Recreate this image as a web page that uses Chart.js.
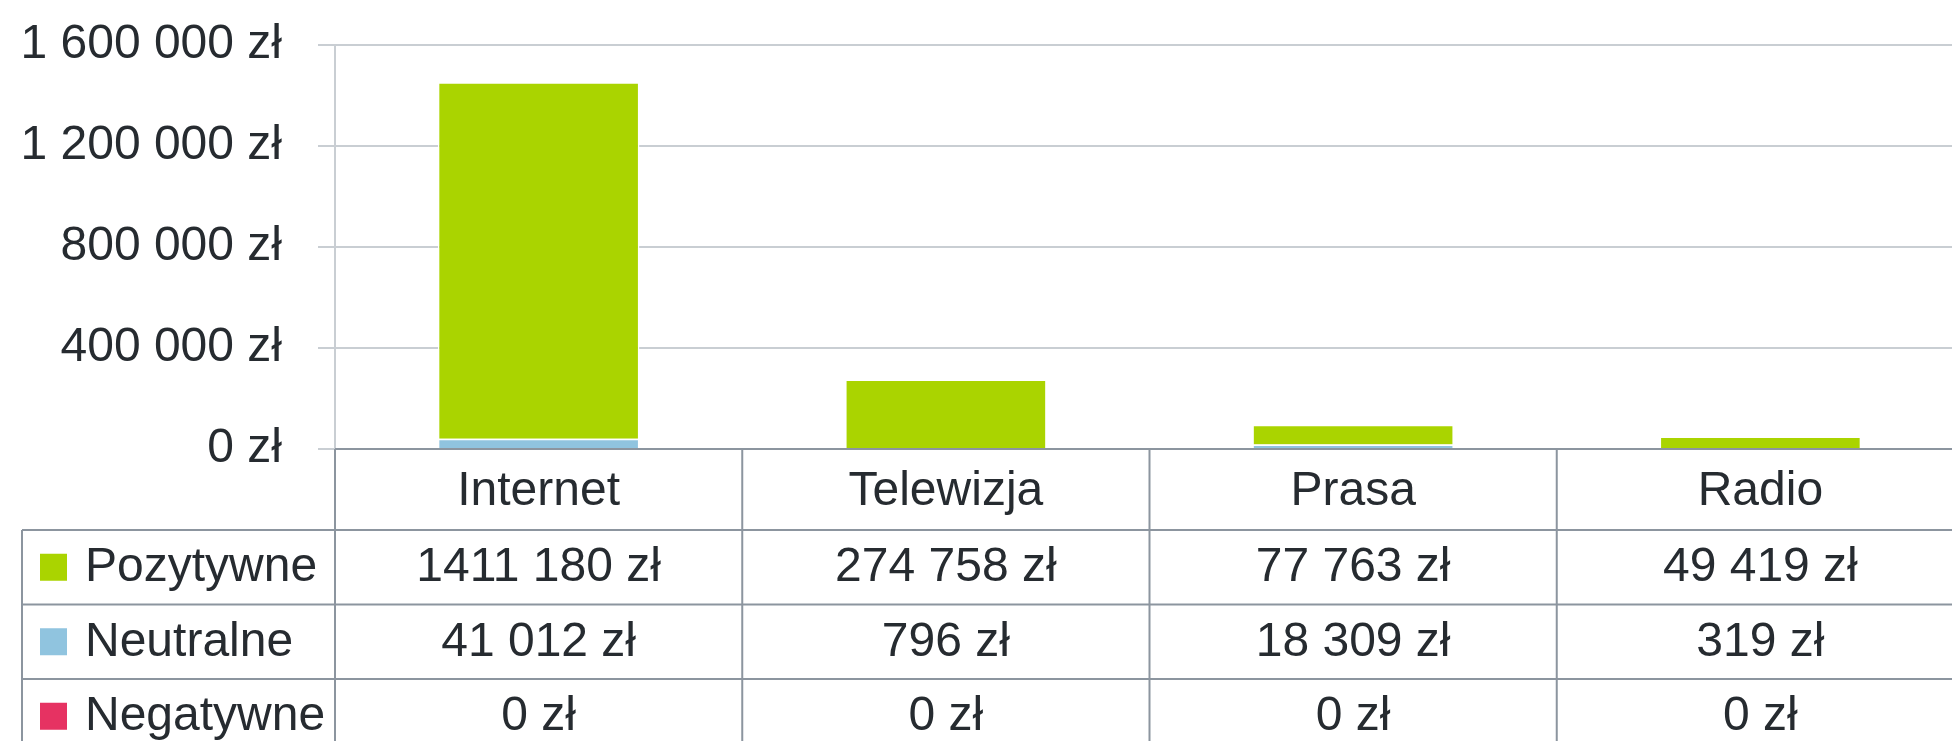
<!DOCTYPE html>
<html>
<head>
<meta charset="utf-8">
<style>
  html, body { margin: 0; padding: 0; background: #fff; overflow: hidden; }
  #wrap { width: 1964px; height: 741px; }
</style>
<script src="https://cdn.jsdelivr.net/npm/chart.js@4.4.1/dist/chart.umd.min.js"></script>
</head>
<body>
<div id="wrap"><canvas id="chart" width="1964" height="741"></canvas></div>
<script>
// --- Data ---
const categories = ['Internet', 'Telewizja', 'Prasa', 'Radio'];
const seriesNames = ['Pozytywne', 'Neutralne', 'Negatywne'];
const pozytywne = [1411180, 274758, 77763, 49419];
const neutralne = [41012, 796, 18309, 319];
const negatywne = [0, 0, 0, 0];
const yTicks = [0, 400000, 800000, 1200000, 1600000];

const colors = { Pozytywne: '#aad400', Neutralne: '#90c4df', Negatywne: '#e63262' };
const textColor = '#262b30';
const gridColor = '#c9ced3';
const tableColor = '#8c959f';
const FONT = '"Liberation Sans", Arial, sans-serif';

// "1 600 000 zł" style for the axis
function fmtAxis(v) {
  return String(v).replace(/\B(?=(\d{3})+(?!\d))/g, ' ') + ' zł';
}
// table cells only split the last group ("1411 180 zł")
function fmtCell(v) {
  if (v < 1000) return v + ' zł';
  return Math.floor(v / 1000) + ' ' + String(v % 1000).padStart(3, '0') + ' zł';
}

const rowValues = { Pozytywne: pozytywne, Neutralne: neutralne, Negatywne: negatywne };

// --- Data table under the plot ---
const dataTable = {
  id: 'dataTable',
  afterDraw(chart) {
    const { ctx, chartArea, scales } = chart;
    const x = scales.x;
    const colW = (chartArea.right - chartArea.left) / categories.length;
    const top = chartArea.bottom;
    const headH = 81;
    const rowH = 74.5;
    const tableLeft = 22;
    const W = chart.width;

    ctx.save();
    ctx.strokeStyle = tableColor;
    ctx.lineWidth = 2;

    // horizontal lines
    ctx.beginPath();
    ctx.moveTo(chartArea.left, top); ctx.lineTo(W, top);
    for (let r = 0; r <= seriesNames.length; r++) {
      const y = top + headH + r * rowH;
      ctx.moveTo(tableLeft, y); ctx.lineTo(W, y);
    }
    // vertical lines
    const bottom = top + headH + seriesNames.length * rowH;
    ctx.moveTo(tableLeft, top + headH); ctx.lineTo(tableLeft, bottom);
    for (let i = 0; i <= categories.length; i++) {
      const cx = chartArea.left + i * colW;
      ctx.moveTo(cx, top); ctx.lineTo(cx, bottom);
    }
    ctx.stroke();

    ctx.fillStyle = textColor;
    ctx.font = '48px ' + FONT;
    ctx.textBaseline = 'middle';
    ctx.textAlign = 'center';
    categories.forEach((c, i) => {
      ctx.fillText(c, x.getPixelForValue(i), top + headH / 2 + 2);
    });

    seriesNames.forEach((name, r) => {
      const cy = top + headH + r * rowH + rowH / 2;
      ctx.fillStyle = colors[name];
      ctx.fillRect(40, cy - 13.5, 27, 27);
      ctx.fillStyle = textColor;
      ctx.textAlign = 'left';
      ctx.fillText(name, 85, cy + 1);
      ctx.textAlign = 'center';
      rowValues[name].forEach((v, i) => {
        ctx.fillText(fmtCell(v), x.getPixelForValue(i), cy + 1);
      });
    });
    ctx.restore();
  }
};

// stacking: neutral at the bottom, positive on top
const datasets = [
  { label: 'Negatywne', data: negatywne, backgroundColor: colors.Negatywne, borderWidth: 0 },
  { label: 'Neutralne', data: neutralne, backgroundColor: colors.Neutralne, borderColor: '#ffffff', borderWidth: 1.5 },
  { label: 'Pozytywne', data: pozytywne, backgroundColor: colors.Pozytywne, borderColor: '#ffffff', borderWidth: 1.5 },
];

new Chart(document.getElementById('chart'), {
  type: 'bar',
  data: { labels: categories, datasets },
  options: {
    responsive: false,
    animation: false,
    layout: { padding: { top: 45, right: 0, bottom: 292, left: 0 } },
    datasets: { bar: { categoryPercentage: 1, barPercentage: 0.495 } },
    scales: {
      x: { stacked: true, display: false },
      y: {
        stacked: true,
        min: 0,
        max: 1600000,
        afterBuildTicks: (s) => { s.ticks = yTicks.map(v => ({ value: v })); },
        afterFit: (s) => { s.width = 335; s.paddingTop = 0; s.paddingBottom = 0; },
        ticks: { callback: (v) => fmtAxis(v), color: textColor, font: { family: FONT, size: 48 }, padding: 36 },
        grid: { color: gridColor, lineWidth: 2, tickLength: 17 },
        border: { color: gridColor, width: 2 },
      },
    },
    plugins: { legend: { display: false }, tooltip: { enabled: false } },
  },
  plugins: [dataTable],
});
</script>
</body>
</html>
